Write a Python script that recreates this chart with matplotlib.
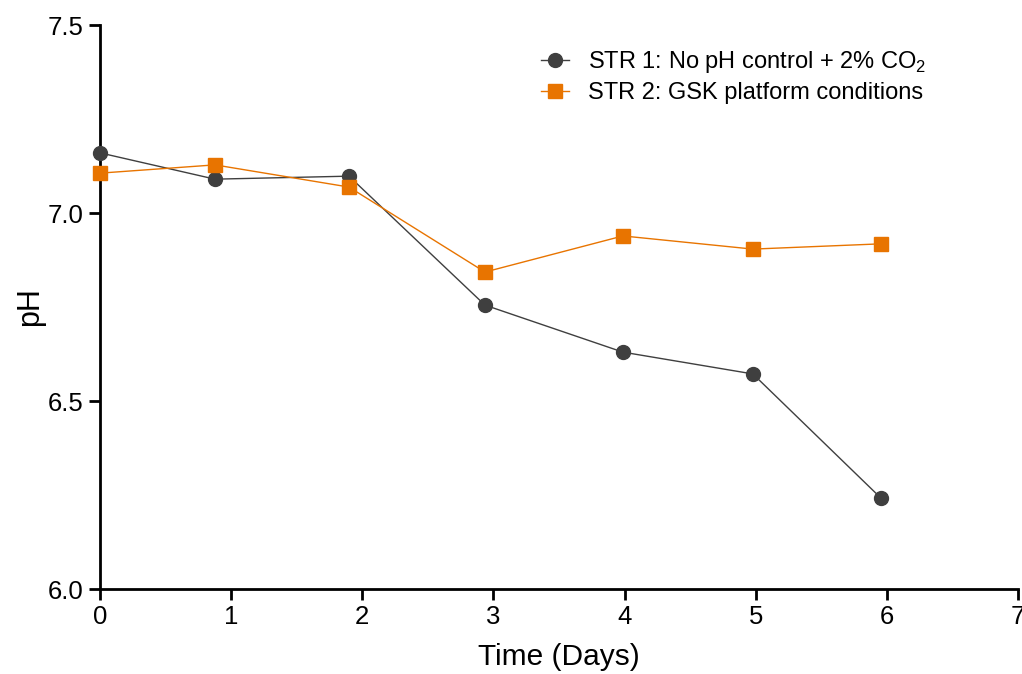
import numpy as np
import matplotlib
matplotlib.use("Agg")
import matplotlib.pyplot as plt

plt.rcParams.update({
    "font.family": ["Liberation Sans", "DejaVu Sans"],
    "mathtext.fontset": "custom",
    "mathtext.rm": "Liberation Sans",
    "axes.linewidth": 2.0,
})

# data
days_str1 = [0.0, 0.877, 1.899, 2.936, 3.988, 4.979, 5.955]
ph_str1 = [7.160, 7.090, 7.098, 6.755, 6.630, 6.572, 6.242]
days_str2 = [0.0, 0.877, 1.899, 2.936, 3.988, 4.979, 5.955]
ph_str2 = [7.106, 7.128, 7.069, 6.843, 6.939, 6.904, 6.918]

label_str1 = r"STR 1: No pH control + 2% CO$_2$"
label_str2 = "STR 2: GSK platform conditions"

fig = plt.figure(figsize=(10.22, 6.74), dpi=100)
ax = fig.add_axes([0.0978, 0.1261, 0.8982, 0.8368])

ax.plot(days_str1, ph_str1, "-o", color="#3f3f3f", lw=1.0, ms=10,
        label=label_str1, clip_on=False, zorder=3)
ax.plot(days_str2, ph_str2, "-s", color="#e87400", lw=1.0, ms=10,
        label=label_str2, clip_on=False, zorder=3)

ax.set_xlim(0, 7)
ax.set_ylim(6.0, 7.5)
ax.set_xticks(range(8))
ax.set_yticks([6.0, 6.5, 7.0, 7.5])
ax.yaxis.set_major_formatter(matplotlib.ticker.FormatStrFormatter("%.1f"))
ax.tick_params(direction="out", length=8, width=2, labelsize=18.5)

ax.spines["top"].set_visible(False)
ax.spines["right"].set_visible(False)

ax.set_xlabel("Time (Days)", fontsize=21.5, labelpad=10)
ax.set_ylabel("pH", fontsize=22, labelpad=2)

ax.legend(loc="upper left", bbox_to_anchor=(0.457, 0.995), frameon=False,
          fontsize=17, handlelength=1.2, handletextpad=0.8, labelspacing=0.3)

fig.savefig("out.png", dpi=100)
